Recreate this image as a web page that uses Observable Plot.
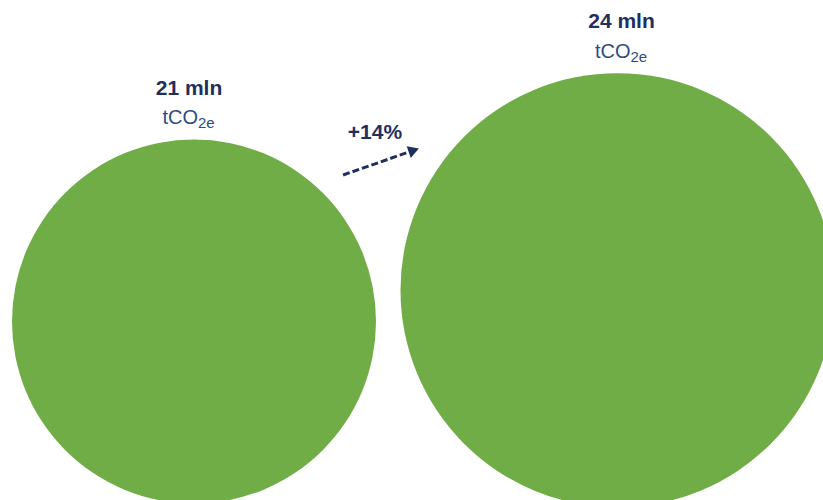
<!DOCTYPE html>
<html><head><meta charset="utf-8">
<script src="https://cdn.jsdelivr.net/npm/d3@7"></script>
<script src="https://cdn.jsdelivr.net/npm/@observablehq/plot@0.6"></script>
<style>
html,body{margin:0;padding:0;background:#fff;overflow:hidden}
</style></head><body><div id="chart"></div>
<script>
// ---- data ----
const categories = ["Current", "Projected"];
const values = [21, 24];
const valueLabels = ["21 mln", "24 mln"];
const unitMain = "tCO";
const unitSub = "2e";
const changeLabel = "+14%";

const data = categories.map((c, i) => ({category: c, index: i, value: values[i], label: valueLabels[i]}));

// ---- scales ----
const xOpts = {type: "linear", domain: [0, 1], range: [193.5, 617], axis: null};
const yOpts = {type: "linear", domain: [21, 24], range: [321, 289.7], axis: null};
const rOpts = {type: "linear", domain: [5.4, 24], range: [0, 217]};
const X = Plot.scale({x: xOpts}), Y = Plot.scale({y: yOpts}), R = Plot.scale({r: rOpts});

const FONT = "Liberation Sans, Arial, Helvetica, sans-serif";
const NAVY = "#1F3060";
const UNIT = "#2F4C80";
const GREEN = "#70AD47";
const labelShift = [-5, 4]; // layout: horizontal nudge of each bubble's label block

// ---- arrow geometry, placed relative to the two bubbles ----
function outside(i, angleDeg, gap) {
  const a = angleDeg * Math.PI / 180;
  const rr = R.apply(values[i]) + gap;
  return [X.apply(i) + rr * Math.cos(a), Y.apply(values[i]) - rr * Math.sin(a)];
}
const p0 = outside(0, 44.5, 27);
const tip = outside(1, 144.5, 27);
const dxp = tip[0] - p0[0], dyp = tip[1] - p0[1];
const len = Math.hypot(dxp, dyp);
const ux = dxp / len, uy = dyp / len;
const headR = 4.6;
const headOff = 2 * Math.sqrt(Math.PI * headR * headR / (Math.sqrt(3) * 3));
const hc = [tip[0] - ux * headOff, tip[1] - uy * headOff];
const rot = Math.atan2(uy, ux) * 180 / Math.PI + 90;
const arrow = [{x1: X.invert(p0[0]), y1: Y.invert(p0[1]), x2: X.invert(hc[0]), y2: Y.invert(hc[1])}];
const mid = [{x: X.invert((p0[0] + tip[0]) / 2), y: Y.invert((p0[1] + tip[1]) / 2), label: changeLabel}];

const marks = [
  Plot.dot(data, {x: "index", y: "value", r: "value", fill: GREEN}),
];
data.forEach((d, i) => {
  const r = R.apply(d.value);
  const sx = labelShift[i];
  marks.push(
    Plot.text([d], {x: "index", y: "value", text: "label", dx: sx, dy: -(r + 45), lineAnchor: "bottom",
      fontSize: 21, fontWeight: "bold", fill: NAVY, fontFamily: FONT}),
    Plot.text([d], {x: "index", y: "value", text: () => unitMain, dx: sx + 9, dy: -(r + 15.5), lineAnchor: "bottom",
      textAnchor: "end", fontSize: 20, fill: UNIT, fontFamily: FONT}),
    Plot.text([d], {x: "index", y: "value", text: () => unitSub, dx: sx + 9, dy: -(r + 11.5), lineAnchor: "bottom",
      textAnchor: "start", fontSize: 15, fill: UNIT, fontFamily: FONT})
  );
});
marks.push(
  Plot.link(arrow, {x1: "x1", y1: "y1", x2: "x2", y2: "y2", stroke: NAVY, strokeWidth: 3, strokeDasharray: "7,3"}),
  Plot.dot([{x: arrow[0].x2, y: arrow[0].y2}], {x: "x", y: "y", symbol: "triangle", r: headR, fill: NAVY, rotate: rot}),
  Plot.text(mid, {x: "x", y: "y", text: "label", dx: -6, dy: -22.5, lineAnchor: "bottom",
    fontSize: 21, fontWeight: "bold", fill: NAVY, fontFamily: FONT})
);

const chart = Plot.plot({
  width: 823, height: 500, margin: 0,
  x: xOpts, y: yOpts, r: rOpts,
  style: {background: "#fff", overflow: "visible"},
  marks
});
document.getElementById("chart").appendChild(chart);
</script></body></html>
